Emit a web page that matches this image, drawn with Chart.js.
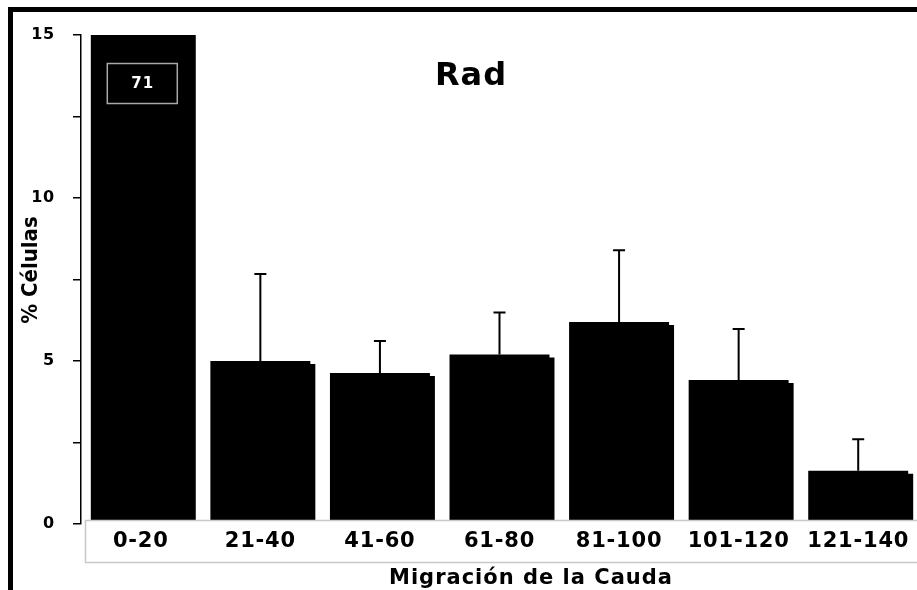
<!DOCTYPE html>
<html>
<head>
<meta charset="utf-8">
<script src="https://cdn.jsdelivr.net/npm/chart.js@4"></script>
<style>
  html, body { margin: 0; padding: 0; overflow: hidden; background: #fff; }
  #wrap { width: 920px; height: 590px; position: relative; }
</style>
</head>
<body>
<div id="wrap"><canvas id="myChart"></canvas></div>
<script>
const categories = ['0-20', '21-40', '41-60', '61-80', '81-100', '101-120', '121-140'];
const values = [71, 5.0, 4.63, 5.2, 6.2, 4.42, 1.63];
const errUp = [0, 2.67, 0.98, 1.29, 2.2, 1.56, 0.97];
const yTickLabels = [0, 5, 10, 15];
const chartTitle = 'Rad';
const xTitle = 'Migración de la Cauda';
const yTitle = '% Células';

Chart.defaults.font.family = 'DejaVu Sans';

const extras = {
    id: 'extras',
    beforeDraw(chart) {
        chart.ctx.letterSpacing = '0.8px';
    },
    beforeDatasetsDraw(chart) {
        const ctx = chart.ctx;
        ctx.save();
        // the bars carry a small black drop shadow
        ctx.shadowColor = '#000';
        ctx.shadowOffsetX = 5;
        ctx.shadowOffsetY = 3;
        ctx.shadowBlur = 0;
    },
    afterDatasetsDraw(chart) {
        const ctx = chart.ctx;
        ctx.restore();
        const meta = chart.getDatasetMeta(0);
        const y = chart.scales.y;
        const a = chart.chartArea;

        // error bars (upper only)
        ctx.save();
        ctx.strokeStyle = '#000';
        ctx.lineWidth = 2;
        meta.data.forEach((bar, i) => {
            if (!errUp[i]) return;
            const top = y.getPixelForValue(values[i] + errUp[i]);
            ctx.beginPath();
            ctx.moveTo(bar.x, bar.y);
            ctx.lineTo(bar.x, top);
            ctx.moveTo(bar.x - 6, top);
            ctx.lineTo(bar.x + 6, top);
            ctx.stroke();
        });

        // value box for the clipped first bar
        const b0 = meta.data[0];
        ctx.strokeStyle = '#a8a8a8';
        ctx.lineWidth = 1.5;
        ctx.strokeRect(b0.x - 33.5, a.top + 28.5, 70, 40);
        ctx.fillStyle = '#fff';
        ctx.font = 'bold 15px "DejaVu Sans"';
        ctx.letterSpacing = '1px';
        ctx.textAlign = 'center';
        ctx.textBaseline = 'middle';
        ctx.fillText(String(values[0]), b0.x + 2, a.top + 49);

        // category table box
        ctx.fillStyle = '#fff';
        ctx.strokeStyle = '#c8c8c8';
        ctx.lineWidth = 1.5;
        ctx.fillRect(a.left + 4.5, a.bottom - 3.5, 1000, 42);
        ctx.strokeRect(a.left + 4.5, a.bottom - 3.5, 1000, 42);
        ctx.restore();
    },
    afterDraw(chart) {
        const ctx = chart.ctx;
        ctx.save();
        ctx.fillStyle = '#000';
        ctx.textAlign = 'center';

        ctx.font = 'bold 32px "DejaVu Sans"';
        ctx.letterSpacing = '1px';
        ctx.textBaseline = 'alphabetic';
        ctx.fillText(chartTitle, 471, 85);

        ctx.font = 'bold 21px "DejaVu Sans"';
        ctx.letterSpacing = '1px';
        ctx.fillText(xTitle, 531, 584);

        ctx.letterSpacing = '0px';
        ctx.translate(31, 270);
        ctx.rotate(-Math.PI / 2);
        ctx.textBaseline = 'middle';
        ctx.font = 'bold 22px "Liberation Sans Narrow", "DejaVu Sans Condensed", sans-serif';
        ctx.fillText(yTitle, 0, 0);
        ctx.restore();

        // outer frame
        ctx.save();
        ctx.strokeStyle = '#000';
        ctx.lineWidth = 5;
        ctx.strokeRect(10.5, 9.5, 2000, 2000);
        ctx.restore();
    }
};

new Chart(document.getElementById('myChart'), {
    type: 'bar',
    data: {
        labels: categories,
        datasets: [{
            data: values,
            backgroundColor: '#000',
            borderWidth: 0,
            barPercentage: 0.836,
            categoryPercentage: 1.0
        }]
    },
    options: {
        responsive: true,
        maintainAspectRatio: false,
        animation: false,
        layout: { padding: { top: 35, left: 0, right: 2, bottom: 0 } },
        plugins: {
            legend: { display: false },
            tooltip: { enabled: false }
        },
        scales: {
            x: {
                grid: { display: false, drawTicks: false },
                border: { display: false },
                ticks: {
                    z: 1,
                    color: '#000',
                    font: { size: 21, weight: 'bold' },
                    padding: 5,
                    maxRotation: 0,
                    autoSkip: false
                },
                afterFit: s => { s.height = 66; }
            },
            y: {
                min: 0,
                max: 15,
                afterFit: s => { s.width = 81; },
                border: { color: '#000', width: 1.5 },
                grid: { drawOnChartArea: false, drawTicks: true, tickLength: 8, color: '#000', lineWidth: 1.5 },
                ticks: {
                    stepSize: 2.5,
                    padding: 18,
                    color: '#000',
                    font: { size: 16, weight: 'bold' },
                    callback: v => yTickLabels.includes(v) ? v : ''
                }
            }
        }
    },
    plugins: [extras]
});
</script>
</body>
</html>
